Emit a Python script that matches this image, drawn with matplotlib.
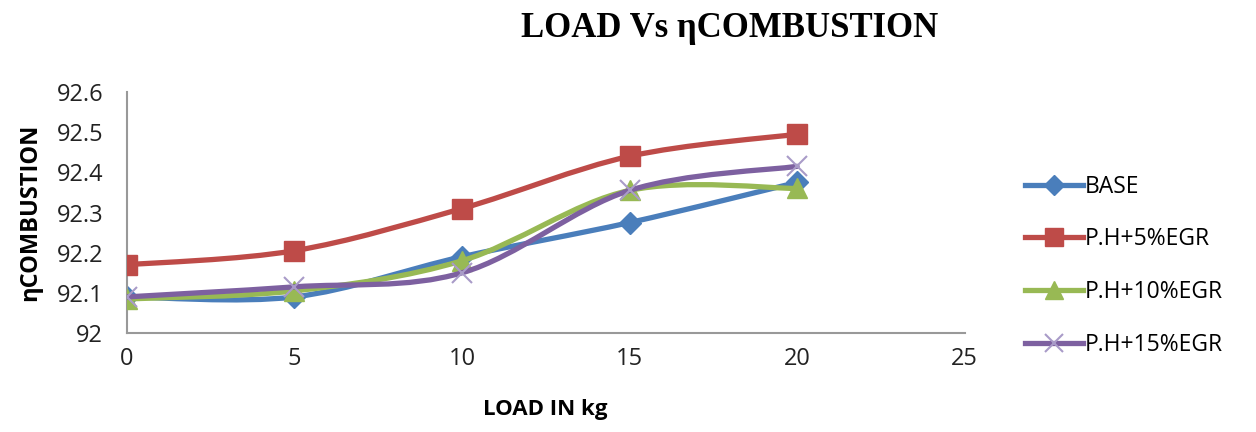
import numpy as np
import matplotlib
matplotlib.use("Agg")
import matplotlib.pyplot as plt
from matplotlib.path import Path
from matplotlib.patches import PathPatch
from matplotlib.lines import Line2D

load = [0, 5, 10, 15, 20]
base = [92.09, 92.09, 92.19, 92.275, 92.375]
ph5 = [92.17, 92.205, 92.31, 92.44, 92.495]
ph10 = [92.085, 92.105, 92.18, 92.355, 92.36]
ph15 = [92.09, 92.115, 92.15, 92.355, 92.415]
names = ["BASE", "P.H+5%EGR", "P.H+10%EGR", "P.H+15%EGR"]
x_ticks = [0, 5, 10, 15, 20, 25]
y_ticks = [92, 92.1, 92.2, 92.3, 92.4, 92.5, 92.6]
y_tick_labels = ["92", "92.1", "92.2", "92.3", "92.4", "92.5", "92.6"]

colors = ["#4A7EBB", "#BE4B48", "#98B954", "#7D60A0"]
markers = ["D", "s", "^", "x"]
msizes = [11, 15, 14, 15]
mcolors = ["#4A7EBB", "#BE4B48", "#98B954", "#A99BC8"]

plt.rcParams['font.family'] = ['Open Sans', 'DejaVu Sans']

fig = plt.figure(figsize=(12.56, 4.32), dpi=100)
ax = fig.add_axes([0.101, 0.229, 0.667, 0.558])


def smooth_path(xs, ys, t=1/6):
    # Excel-style smoothed line: cubic Bezier through points (Catmull-Rom tangents)
    xs = np.asarray(xs, float); ys = np.asarray(ys, float)
    n = len(xs)
    verts = [(xs[0], ys[0])]
    codes = [Path.MOVETO]
    for i in range(n - 1):
        p0 = (xs[i - 1], ys[i - 1]) if i > 0 else (xs[i], ys[i])
        p1 = (xs[i], ys[i]); p2 = (xs[i + 1], ys[i + 1])
        p3 = (xs[i + 2], ys[i + 2]) if i + 2 < n else p2
        c1 = (p1[0] + (p2[0] - p0[0]) * t, p1[1] + (p2[1] - p0[1]) * t)
        c2 = (p2[0] - (p3[0] - p1[0]) * t, p2[1] - (p3[1] - p1[1]) * t)
        verts += [c1, c2, p2]
        codes += [Path.CURVE4] * 3
    return Path(verts, codes)


series = [base, ph5, ph10, ph15]
handles = []
for i, s in enumerate(series):
    patch = PathPatch(smooth_path(load, s), facecolor='none', edgecolor=colors[i],
                      lw=3.8, capstyle='round', joinstyle='round', zorder=2 + i)
    ax.add_patch(patch)
    if markers[i] == 'x':
        ax.plot(load, s, linestyle='none', marker='x', markersize=msizes[i],
                markeredgecolor=mcolors[i], markeredgewidth=1.5, zorder=2 + i)
    else:
        ax.plot(load, s, linestyle='none', marker=markers[i], markersize=msizes[i],
                markerfacecolor=mcolors[i], markeredgecolor=mcolors[i], zorder=2 + i)
    handles.append(Line2D([0], [0], color=colors[i], lw=3.8, marker=markers[i],
                          markersize=msizes[i] * 0.9, markerfacecolor=mcolors[i],
                          markeredgecolor=mcolors[i],
                          markeredgewidth=1.5 if markers[i] == 'x' else 1))

ax.set_xlim(0, 25)
ax.set_ylim(92, 92.6)
ax.set_xticks(x_ticks)
ax.set_yticks(y_ticks)
ax.set_yticklabels(y_tick_labels)
ax.tick_params(length=0, labelsize=17, colors='#222222')
ax.tick_params(axis='y', pad=17)
ax.tick_params(axis='x', pad=10)
for sp in ['top', 'right']:
    ax.spines[sp].set_visible(False)
for sp in ['left', 'bottom']:
    ax.spines[sp].set_color('#999999')
    ax.spines[sp].set_linewidth(1.5)

ax.set_xlabel("LOAD IN kg", fontsize=16, fontweight='bold', labelpad=20)
ax.set_ylabel("ηCOMBUSTION", fontsize=17, fontweight='bold', labelpad=10)

fig.text(0.581, 0.935, "LOAD Vs ηCOMBUSTION", ha='center', va='center',
         fontsize=25, fontweight='bold', family=['Liberation Serif', 'DejaVu Serif'])

fig.legend(handles, names, loc='center left', bbox_to_anchor=(0.8, 0.385),
           frameon=False, fontsize=16.5, handlelength=2.5, labelspacing=1.25,
           handletextpad=0.1)

fig.savefig("out.png", dpi=100)
